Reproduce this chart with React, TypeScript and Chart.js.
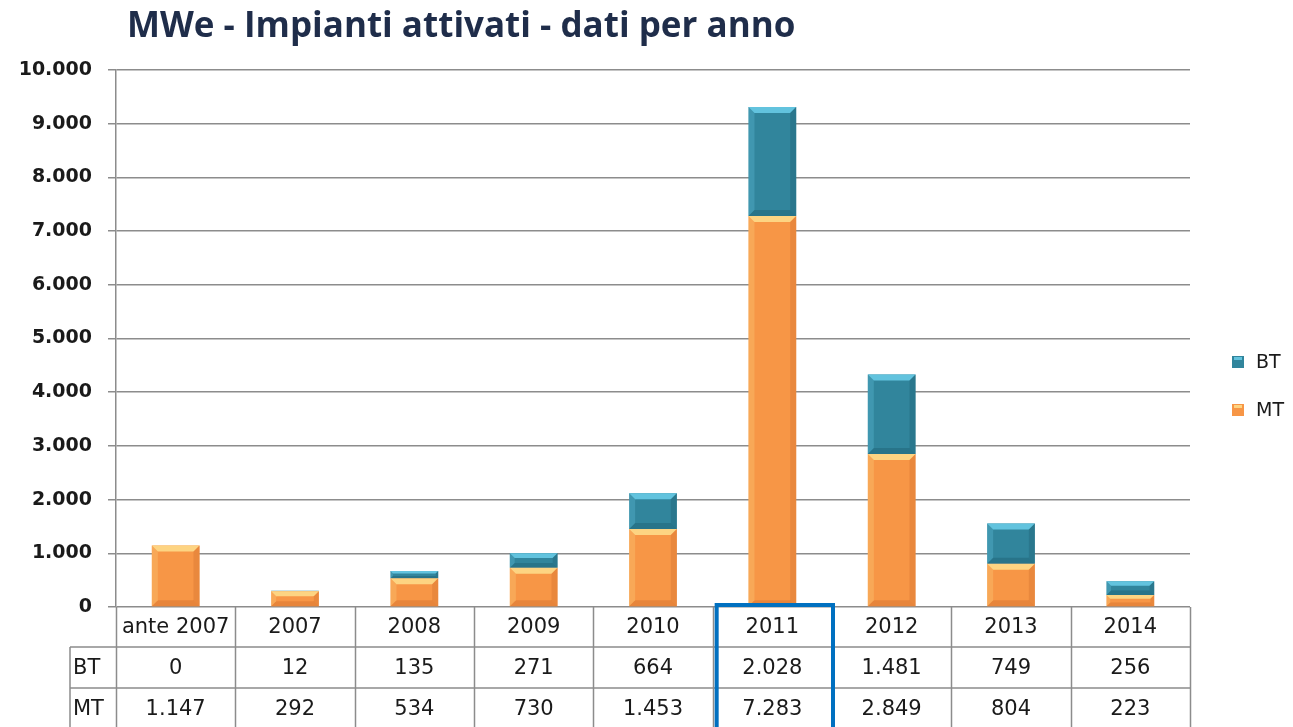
import { useEffect, useRef } from "react";
import { Chart, registerables } from "chart.js";

Chart.register(...registerables);

const chartTitle = "MWe - Impianti attivati - dati per anno";
const categories = ["ante 2007", "2007", "2008", "2009", "2010", "2011", "2012", "2013", "2014"];
const btValues = [0, 12, 135, 271, 664, 2028, 1481, 749, 256];
const mtValues = [1147, 292, 534, 730, 1453, 7283, 2849, 804, 223];
const seriesNames = ["BT", "MT"];
const highlightCategory = "2011";
const yMax = 10000;
const yStep = 1000;

const ORANGE = "#F79646";
const ORANGE_LIGHT = "#FDD482";
const ORANGE_DARK = "#DC7A33";
const TEAL = "#31859C";
const TEAL_LIGHT = "#62C3DE";
const TEAL_DARK = "#23697D";
const GRID = "#8C8C8C";
const TEXT = "#1A1A1A";
const TITLE_FONT = "'Open Sans', 'Liberation Sans', sans-serif";
const FONT = "'DejaVu Sans', 'Liberation Sans', sans-serif";

const fmt = (v: number) => String(Math.round(v)).replace(/\B(?=(\d{3})+(?!\d))/g, ".");

const bevelPlugin = {
  id: "bevel",
  afterDatasetsDraw(chart: any) {
    const ctx = chart.ctx;
    chart.data.datasets.forEach((ds: any, di: number) => {
      const meta = chart.getDatasetMeta(di);
      const light = di === 0 ? ORANGE_LIGHT : TEAL_LIGHT;
      const dark = di === 0 ? ORANGE_DARK : TEAL_DARK;
      meta.data.forEach((bar: any) => {
        const p = bar.getProps(["x", "y", "base", "width"], true);
        const l = p.x - p.width / 2;
        const r = p.x + p.width / 2;
        const t = Math.min(p.y, p.base);
        const b = Math.max(p.y, p.base);
        const h = b - t;
        if (h < 1) return;
        const e = Math.min(6, h / 3);
        ctx.save();
        // top bevel
        ctx.fillStyle = light;
        ctx.beginPath();
        ctx.moveTo(l, t);
        ctx.lineTo(r, t);
        ctx.lineTo(r - e, t + e);
        ctx.lineTo(l + e, t + e);
        ctx.closePath();
        ctx.fill();
        // bottom bevel
        ctx.fillStyle = dark;
        ctx.globalAlpha = 0.6;
        ctx.beginPath();
        ctx.moveTo(l, b);
        ctx.lineTo(r, b);
        ctx.lineTo(r - e, b - e);
        ctx.lineTo(l + e, b - e);
        ctx.closePath();
        ctx.fill();
        // right bevel
        ctx.globalAlpha = 0.5;
        ctx.beginPath();
        ctx.moveTo(r, t);
        ctx.lineTo(r, b);
        ctx.lineTo(r - e, b - e);
        ctx.lineTo(r - e, t + e);
        ctx.closePath();
        ctx.fill();
        // left bevel
        ctx.fillStyle = light;
        ctx.globalAlpha = 0.3;
        ctx.beginPath();
        ctx.moveTo(l, t);
        ctx.lineTo(l, b);
        ctx.lineTo(l + e, b - e);
        ctx.lineTo(l + e, t + e);
        ctx.closePath();
        ctx.fill();
        ctx.restore();
      });
    });
  },
};

const decorPlugin = {
  id: "decor",
  afterDraw(chart: any) {
    const ctx = chart.ctx;
    const area = chart.chartArea;
    const n = categories.length;
    const colW = (area.right - area.left) / n;
    const y0 = area.bottom;
    const y1 = y0 + 40;
    const y2 = y1 + 41;
    const y3 = y2 + 42;
    const leftCol = 70;

    ctx.save();
    // title
    ctx.fillStyle = "#1F2D4A";
    ctx.font = `bold 35px ${TITLE_FONT}`;
    ctx.textAlign = "left";
    ctx.textBaseline = "middle";
    ctx.fillText(chartTitle, 127, 27);

    // table lines
    ctx.strokeStyle = GRID;
    ctx.lineWidth = 1.5;
    ctx.beginPath();
    for (let i = 0; i <= n; i++) {
      const x = Math.round(area.left + i * colW) + 0.5;
      ctx.moveTo(x, y0);
      ctx.lineTo(x, y3 + 5);
    }
    ctx.moveTo(leftCol, y1);
    ctx.lineTo(leftCol, y3 + 5);
    [y1, y2].forEach((y) => {
      ctx.moveTo(leftCol, y);
      ctx.lineTo(area.right, y);
    });
    ctx.stroke();

    // table text
    ctx.fillStyle = TEXT;
    ctx.font = `21px ${FONT}`;
    ctx.textAlign = "center";
    ctx.textBaseline = "middle";
    categories.forEach((c, i) => {
      const cx = area.left + (i + 0.5) * colW;
      ctx.fillText(c, cx, (y0 + y1) / 2 + 1);
      ctx.fillText(fmt(btValues[i]), cx, (y1 + y2) / 2 + 1);
      ctx.fillText(fmt(mtValues[i]), cx, (y2 + y3) / 2 + 1);
    });
    ctx.textAlign = "left";
    ctx.fillText(seriesNames[0], leftCol + 3, (y1 + y2) / 2 + 1);
    ctx.fillText(seriesNames[1], leftCol + 3, (y2 + y3) / 2 + 1);

    // highlight box
    const hi = categories.indexOf(highlightCategory);
    if (hi >= 0) {
      ctx.strokeStyle = "#0070C0";
      ctx.lineWidth = 4;
      const hx = area.left + hi * colW + 4;
      ctx.strokeRect(hx, y0 - 2, colW - 3, y3 - y0 + 20);
    }

    // legend
    const legend = [
      { name: seriesNames[0], color: TEAL, light: TEAL_LIGHT, y: 362 },
      { name: seriesNames[1], color: ORANGE, light: ORANGE_LIGHT, y: 410 },
    ];
    ctx.font = `19px ${FONT}`;
    ctx.textBaseline = "middle";
    legend.forEach((it) => {
      ctx.fillStyle = it.color;
      ctx.fillRect(1232, it.y - 6, 12, 12);
      ctx.fillStyle = it.light;
      ctx.fillRect(1234, it.y - 5, 8, 3);
      ctx.fillStyle = TEXT;
      ctx.fillText(it.name, 1256, it.y + 1);
    });
    ctx.restore();
  },
};

export default function App() {
  const ref = useRef<HTMLCanvasElement | null>(null);
  useEffect(() => {
    if (!ref.current) return;
    const chart = new Chart(ref.current, {
      type: "bar",
      data: {
        labels: categories,
        datasets: [
          {
            label: seriesNames[1],
            data: mtValues,
            backgroundColor: ORANGE,
            barPercentage: 0.4,
            categoryPercentage: 1,
          },
          {
            label: seriesNames[0],
            data: btValues,
            backgroundColor: TEAL,
            barPercentage: 0.4,
            categoryPercentage: 1,
          },
        ],
      },
      options: {
        animation: false,
        responsive: false,
        maintainAspectRatio: false,
        layout: { padding: { left: 0, right: 103, top: 70, bottom: 0 } },
        plugins: {
          legend: { display: false },
          title: { display: false },
          tooltip: { enabled: false },
        },
        scales: {
          x: {
            stacked: true,
            grid: { display: false, drawTicks: false },
            border: { display: false },
            ticks: { display: false },
            afterFit: (s: any) => {
              s.height = 120;
            },
          },
          y: {
            stacked: true,
            min: 0,
            max: yMax,
            ticks: {
              stepSize: yStep,
              callback: (v: any) => fmt(Number(v)),
              font: { family: FONT, size: 19, weight: "bold" },
              color: TEXT,
              padding: 16,
            },
            grid: { color: GRID, lineWidth: 1.5, tickLength: 8 },
            border: { color: GRID, width: 1.5 },
            afterFit: (s: any) => {
              s.width = 116;
            },
          },
        },
      },
      plugins: [bevelPlugin, decorPlugin],
    } as any);
    return () => chart.destroy();
  }, []);
  return (
    <div style={{ position: "fixed", left: 0, top: 0, width: 1293, height: 727, background: "#fff" }}>
      <canvas ref={ref} width={1293} height={727} style={{ display: "block" }} />
    </div>
  );
}
